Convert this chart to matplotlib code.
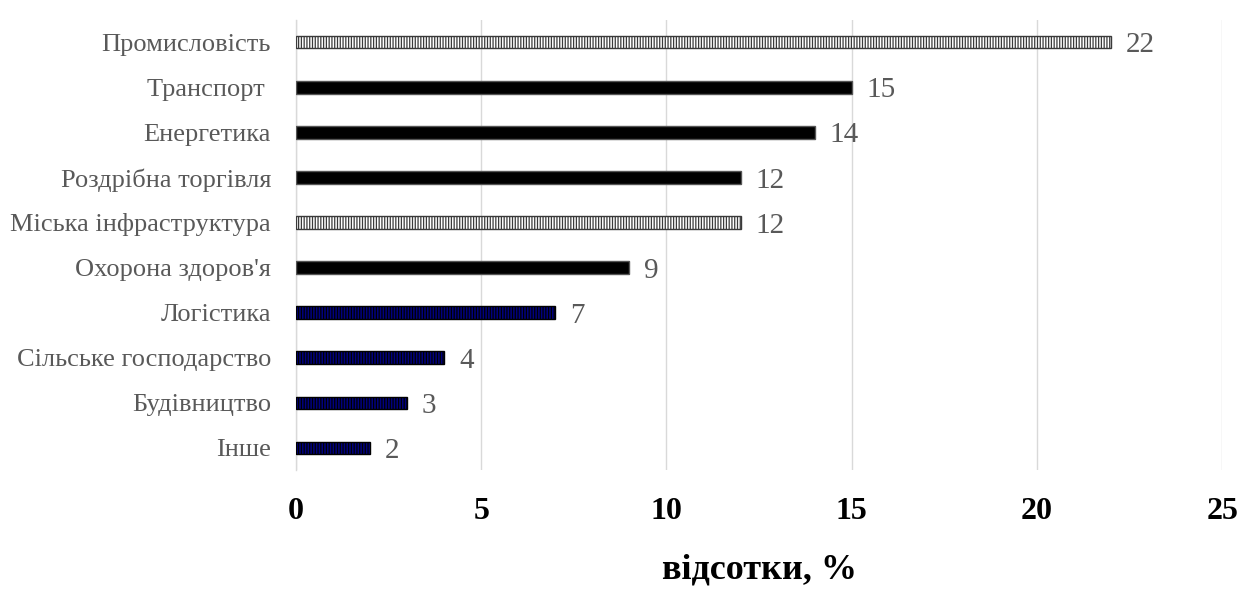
import matplotlib
matplotlib.use('Agg')
from matplotlib import pyplot as plt

categories = [
    'Промисловість',
    'Транспорт ',
    'Енергетика',
    'Роздрібна торгівля',
    'Міська інфраструктура',
    "Охорона здоров'я",
    'Логістика',
    'Сільське господарство',
    'Будівництво',
    'Інше',
]
shares = [22, 15, 14, 12, 12, 9, 7, 4, 3, 2]
x_ticks = [0, 5, 10, 15, 20, 25]

# bar look per category group
bar_kind = ['light', 'dark', 'dark', 'dark', 'light', 'dark', 'navy', 'navy', 'navy', 'navy']
styles = {
    'light': dict(color='white', edgecolor='#3a3a3a', hatch='||||||'),
    'dark': dict(color='black', edgecolor='#555555', hatch=None),
    'navy': dict(color='#000080', edgecolor='black', hatch='||||||'),
}

plt.rcParams['font.family'] = ['Liberation Serif', 'DejaVu Serif']
plt.rcParams['hatch.linewidth'] = 0.9

fig = plt.figure(figsize=(12.56, 5.93), dpi=100, facecolor='white')
ax = fig.add_axes([0.2357, 0.2066, 0.7373, 0.7604])

for i, (value, kind) in enumerate(zip(shares, bar_kind)):
    st = styles[kind]
    ax.barh(i, value, height=0.28, color=st['color'], edgecolor=st['edgecolor'],
            hatch=st['hatch'], linewidth=1.0, zorder=3)
    ax.text(value + 0.4, i + 0.07, str(value), va='center', ha='left',
            fontsize=21, color='#595959')

ax.set_xlim(0, 25)
ax.set_ylim(9.5, -0.5)
ax.set_xticks(x_ticks)
ax.set_xticklabels([str(t) for t in x_ticks], fontsize=23, fontweight='bold', color='black')
ax.set_yticks(range(len(categories)))
ax.set_yticklabels(categories, fontsize=19, color='#595959')
ax.tick_params(axis='x', length=0, pad=19)
ax.tick_params(axis='y', length=0, pad=18)
ax.grid(axis='x', color='#d9d9d9', linewidth=1.0, zorder=0)
for side in ['top', 'right', 'bottom']:
    ax.spines[side].set_visible(False)
ax.spines['left'].set_color('#d9d9d9')
ax.spines['left'].set_linewidth(1.0)

ax.set_xlabel('відсотки, %', fontsize=26, fontweight='bold', labelpad=20)

fig.savefig('out.png', dpi=100, facecolor='white')
